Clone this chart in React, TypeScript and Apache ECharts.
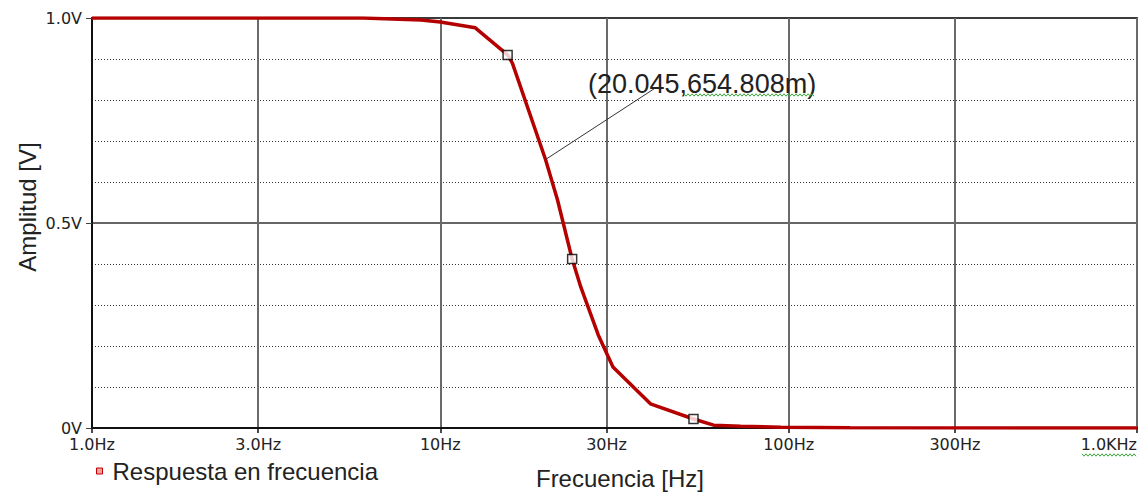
import React, { useEffect, useRef } from "react";
import * as echarts from "echarts";

// Frequency response (frequency in Hz, amplitude in V)
const FREQ = [1, 6, 8.8, 10, 12.6, 15.6, 16.1, 20.045, 21.7, 23.9, 25.3, 28.4, 31.3, 40.1, 53.3, 60.9, 72.8, 95, 150, 1000];
const AMP = [1, 1, 0.995, 0.99, 0.976, 0.91, 0.89, 0.654808, 0.556, 0.412, 0.344, 0.227, 0.149, 0.059, 0.022, 0.007, 0.004, 0.002, 0.0005, 0];

// Square markers on the trace
const MARK_F = [15.6, 23.9, 53.3];
const MARK_V = [0.91, 0.412, 0.022];

// Cursor annotation
const ANNOT_F = 20.045;
const ANNOT_V = 0.654808;

// Ticks
const X_TICKS = [1, 3, 10, 30, 100, 300, 1000];
const X_LABELS = ["1.0Hz", "3.0Hz", "10Hz", "30Hz", "100Hz", "300Hz", "1.0KHz"];
const Y_TICKS = [0, 0.5, 1];
const Y_LABELS = ["0V", "0.5V", "1.0V"];

const SERIES_NAME = "Respuesta en frecuencia";
const X_NAME = "Frecuencia [Hz]";
const Y_NAME = "Amplitud [V]";

const FONT = "'Liberation Sans', Arial, sans-serif";
const TICK_FONT = "'DejaVu Sans', Tahoma, sans-serif";
const TEXT = "#222";

function squiggle(x0: number, x1: number, y: number): number[][] {
  const pts: number[][] = [];
  let k = 0;
  for (let x = x0; x <= x1; x += 2) {
    pts.push([x, y + (k % 2 === 0 ? -1.2 : 1.2)]);
    k++;
  }
  return pts;
}

export default function App() {
  const ref = useRef<HTMLDivElement>(null);

  useEffect(() => {
    if (!ref.current) return;
    const chart = echarts.init(ref.current, null, { renderer: "svg" });
    const lg = (f: number) => Math.log10(f);
    const xTickVals = X_TICKS.map(lg);

    chart.setOption({
      animation: false,
      backgroundColor: "#fff",
      grid: {
        left: 92,
        right: 9,
        top: 18,
        bottom: 65,
        show: true,
        borderColor: "#555",
        borderWidth: 2,
        backgroundColor: "transparent",
      },
      legend: {
        data: [SERIES_NAME],
        left: 96,
        top: 459,
        padding: 0,
        icon: "rect",
        itemWidth: 6,
        itemHeight: 6,
        itemStyle: { color: "#f0a0a0", borderColor: "#c00000", borderWidth: 1 },
        textStyle: { fontSize: 24, color: TEXT, fontFamily: FONT, padding: [0, 0, 0, 5] },
      },
      xAxis: {
        type: "value",
        min: 0,
        max: 3,
        axisLine: { show: true, lineStyle: { color: "#111", width: 2 } },
        axisTick: { show: true, customValues: xTickVals, length: 5, lineStyle: { color: "#111", width: 1.5 } },
        axisLabel: {
          customValues: xTickVals,
          margin: 8,
          fontSize: 16,
          color: TEXT,
          fontFamily: TICK_FONT,
          alignMaxLabel: "right",
          formatter: (v: number) => {
            const i = xTickVals.findIndex((t) => Math.abs(t - v) < 1e-6);
            return i >= 0 ? X_LABELS[i] : "";
          },
        },
        splitLine: { show: true, customValues: xTickVals, lineStyle: { color: "#6a6a6a", width: 2 } },
      },
      yAxis: {
        type: "value",
        min: 0,
        max: 1,
        interval: 0.5,
        axisLine: { show: true, lineStyle: { color: "#111", width: 2 } },
        axisTick: { show: true, length: 6, lineStyle: { color: "#444", width: 1 } },
        axisLabel: {
          margin: 10,
          fontSize: 16,
          color: TEXT,
          fontFamily: TICK_FONT,
          formatter: (v: number) => {
            const i = Y_TICKS.findIndex((t) => Math.abs(t - v) < 1e-6);
            return i >= 0 ? Y_LABELS[i] : "";
          },
        },
        splitLine: { show: true, lineStyle: { color: "#333", width: 1.5 } },
        minorTick: { show: false, splitNumber: 5 },
        minorSplitLine: { show: true, lineStyle: { color: "#333", width: 1, type: [1, 2] } },
      },
      series: [
        {
          name: SERIES_NAME,
          type: "line",
          data: FREQ.map((f, i) => [lg(f), AMP[i]]),
          symbol: "none",
          lineStyle: { color: "#b40000", width: 3.5 },
          itemStyle: { color: "#c00000" },
          z: 3,
        },
        {
          name: "markers",
          type: "scatter",
          data: MARK_F.map((f, i) => [lg(f), MARK_V[i]]),
          symbol: "rect",
          symbolSize: 9,
          itemStyle: { color: "#fff", borderColor: "#000", borderWidth: 1.5 },
          z: 4,
        },
      ],
    });

    const p = chart.convertToPixel({ gridIndex: 0 }, [lg(ANNOT_F), ANNOT_V]) as number[];
    const tx = p[0] + 109;
    const ty = p[1] - 71;
    const label = `(${ANNOT_F.toFixed(3)},${(ANNOT_V * 1000).toFixed(3)}m)`;

    chart.setOption({
      graphic: [
        {
          type: "line",
          shape: { x1: p[0], y1: p[1], x2: tx, y2: ty },
          style: { stroke: "#333", lineWidth: 1 },
          z: 10,
        },
        {
          type: "text",
          x: 588,
          y: 84,
          style: { text: label, fontSize: 27, fontFamily: FONT, fill: TEXT, textAlign: "left", textVerticalAlign: "middle" },
          z: 10,
        },
        {
          type: "polyline",
          shape: { points: squiggle(684, 814, 95) },
          style: { stroke: "#3aa63a", lineWidth: 1, fill: null },
          z: 10,
        },
        {
          type: "polyline",
          shape: { points: squiggle(1082, 1136, 455) },
          style: { stroke: "#3aa63a", lineWidth: 1, fill: null },
          z: 10,
        },
        {
          type: "text",
          x: 27,
          y: 207,
          rotation: Math.PI / 2,
          style: { text: Y_NAME, fontSize: 24, fontFamily: FONT, fill: TEXT, textAlign: "center", textVerticalAlign: "middle" },
        },
        {
          type: "text",
          x: 620,
          y: 478,
          style: { text: X_NAME, fontSize: 24, fontFamily: FONT, fill: TEXT, textAlign: "center", textVerticalAlign: "middle" },
        },
      ],
    });

    return () => chart.dispose();
  }, []);

  return <div ref={ref} style={{ position: "absolute", left: 0, top: 0, width: 1146, height: 493 }} />;
}
